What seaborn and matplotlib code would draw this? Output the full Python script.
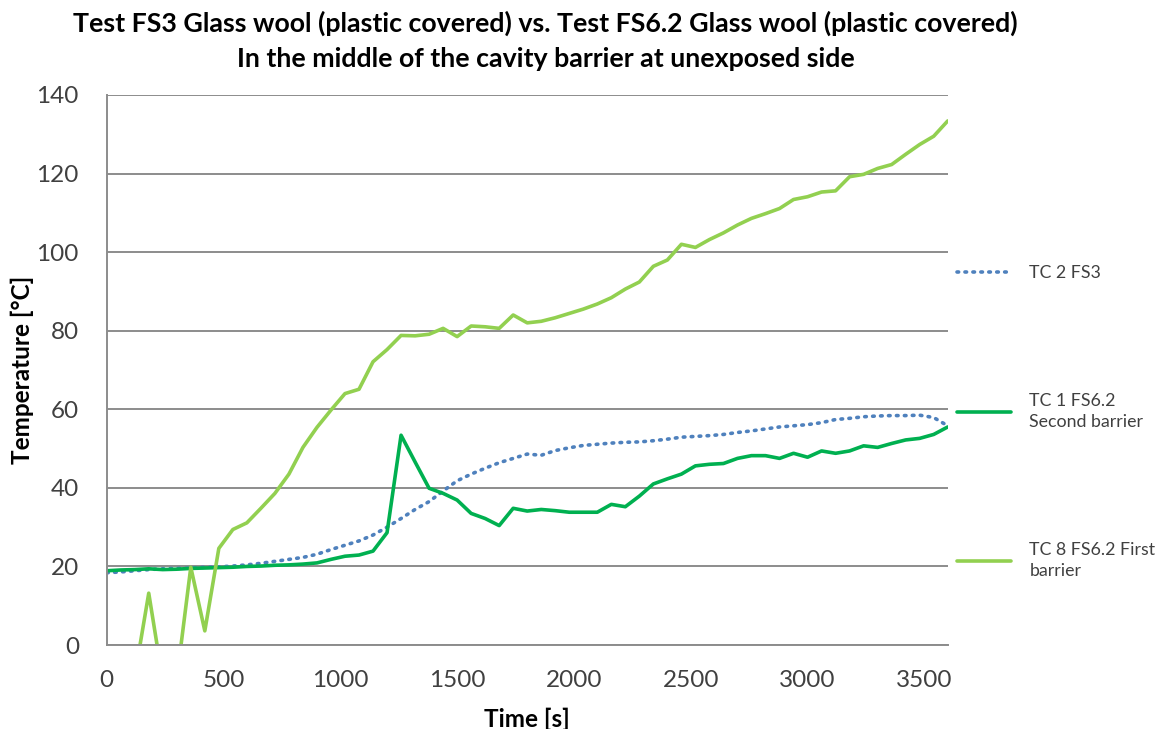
import numpy as np
import pandas as pd
import matplotlib
matplotlib.use("Agg")
import matplotlib.pyplot as plt
import seaborn as sns

# Time axis: readings every 60 s
time_s = list(range(0, 3601, 60))

# TC 2 FS3 (middle of cavity barrier, unexposed side)
tc2_fs3 = [18.4, 18.6, 18.9, 19.2, 19.4, 19.5, 19.6, 19.8, 19.9, 20.1,
           20.4, 20.8, 21.3, 21.8, 22.3, 23.1, 24.3, 25.4, 26.5, 28.0,
           30.0, 32.2, 34.5, 36.5, 39.2, 41.8, 43.5, 45.0, 46.4, 47.5,
           48.6, 48.3, 49.5, 50.2, 50.8, 51.1, 51.4, 51.6, 51.7, 52.0,
           52.4, 52.9, 53.1, 53.3, 53.6, 54.1, 54.5, 55.0, 55.5, 55.8,
           56.1, 56.6, 57.4, 57.7, 58.1, 58.3, 58.4, 58.4, 58.5, 57.9,
           55.8]

# TC 1 FS6.2, second barrier
tc1_fs62 = [18.9, 19.1, 19.2, 19.4, 19.2, 19.3, 19.5, 19.6, 19.7, 19.8,
            20.0, 20.1, 20.3, 20.4, 20.6, 20.9, 21.8, 22.6, 22.9, 23.9,
            28.6, 53.4, 46.6, 39.9, 38.6, 36.9, 33.5, 32.2, 30.4, 34.8,
            34.1, 34.5, 34.2, 33.8, 33.8, 33.8, 35.8, 35.2, 37.9, 41.0,
            42.3, 43.5, 45.6, 46.0, 46.2, 47.5, 48.2, 48.2, 47.5, 48.8,
            47.8, 49.4, 48.8, 49.4, 50.7, 50.3, 51.3, 52.2, 52.6, 53.6,
            55.5]

# TC 8 FS6.2, first barrier (early readings below 0 fall outside the axis)
tc8_fs62 = [-12.0, -11.0, -8.0, 13.2, -9.0, -8.6, 19.8, 3.6, 24.6, 29.4,
            31.1, 34.8, 38.6, 43.5, 50.3, 55.4, 59.8, 64.0, 65.1, 72.1,
            75.2, 78.8, 78.7, 79.1, 80.6, 78.5, 81.2, 81.0, 80.6, 84.0,
            82.0, 82.4, 83.3, 84.4, 85.5, 86.8, 88.4, 90.6, 92.4, 96.4,
            98.0, 102.0, 101.2, 103.2, 104.9, 106.9, 108.6, 109.8, 111.1, 113.4,
            114.1, 115.3, 115.6, 119.2, 119.8, 121.3, 122.3, 124.9, 127.4, 129.5,
            133.4]

labels = ["TC 2 FS3", "TC 1 FS6.2\nSecond barrier", "TC 8 FS6.2 First\nbarrier"]
colors = ["#4F81BD", "#00B050", "#92D050"]

x_ticks = [0, 500, 1000, 1500, 2000, 2500, 3000, 3500]
y_ticks = [0, 20, 40, 60, 80, 100, 120, 140]

df = pd.DataFrame({"time": time_s, "tc2": tc2_fs3, "tc1": tc1_fs62, "tc8": tc8_fs62})

sns.set_theme(style="white")
plt.rcParams["font.family"] = ["Lato", "DejaVu Sans"]

grid_col = "#8C8C8C"
text_col = "#404040"

fig = plt.figure(figsize=(11.61, 7.29), dpi=100)
ax = fig.add_axes([0.0919, 0.1152, 0.7244, 0.7545])

sns.lineplot(data=df, x="time", y="tc2", ax=ax, color=colors[0], lw=2.6,
             linestyle=(0, (0.45, 1.75)), dash_capstyle="round", label=labels[0])
sns.lineplot(data=df, x="time", y="tc1", ax=ax, color=colors[1], lw=2.6,
             label=labels[1])
sns.lineplot(data=df, x="time", y="tc8", ax=ax, color=colors[2], lw=2.6,
             label=labels[2])

ax.set_xlim(0, 3600)
ax.set_ylim(0, 140)
ax.set_xticks(x_ticks)
ax.set_yticks(y_ticks)
ax.yaxis.grid(True, color=grid_col, lw=1.4)
ax.xaxis.grid(False)
ax.set_axisbelow(True)

for side in ["top", "right"]:
    ax.spines[side].set_visible(False)
for side in ["left", "bottom"]:
    ax.spines[side].set_color(grid_col)
    ax.spines[side].set_linewidth(1.4)

ax.tick_params(axis="both", which="major", direction="out", length=6, width=1.2,
               color=grid_col, labelsize=17.5, labelcolor=text_col)
ax.tick_params(axis="y", pad=14)
ax.tick_params(axis="x", pad=12)

ax.set_xlabel("Time [s]", fontsize=17.5, fontweight="bold", color="black", labelpad=12)
ax.set_ylabel("Temperature [°C]", fontsize=17.5, fontweight="bold", color="black", labelpad=2)

fig.suptitle("Test FS3 Glass wool (plastic covered) vs. Test FS6.2 Glass wool (plastic covered)\n"
             "In the middle of the cavity barrier at unexposed side",
             x=0.470, y=0.986, fontsize=19.3, fontweight="bold", color="black",
             linespacing=1.55)

leg = ax.legend(loc="upper left", bbox_to_anchor=(1.003, 0.703), frameon=False,
                fontsize=12.8, handlelength=3.0, handletextpad=1.05,
                labelspacing=6.25, borderaxespad=0)
for t in leg.get_texts():
    t.set_color(text_col)
    t.set_linespacing(1.45)

fig.savefig("out.png", dpi=100)
